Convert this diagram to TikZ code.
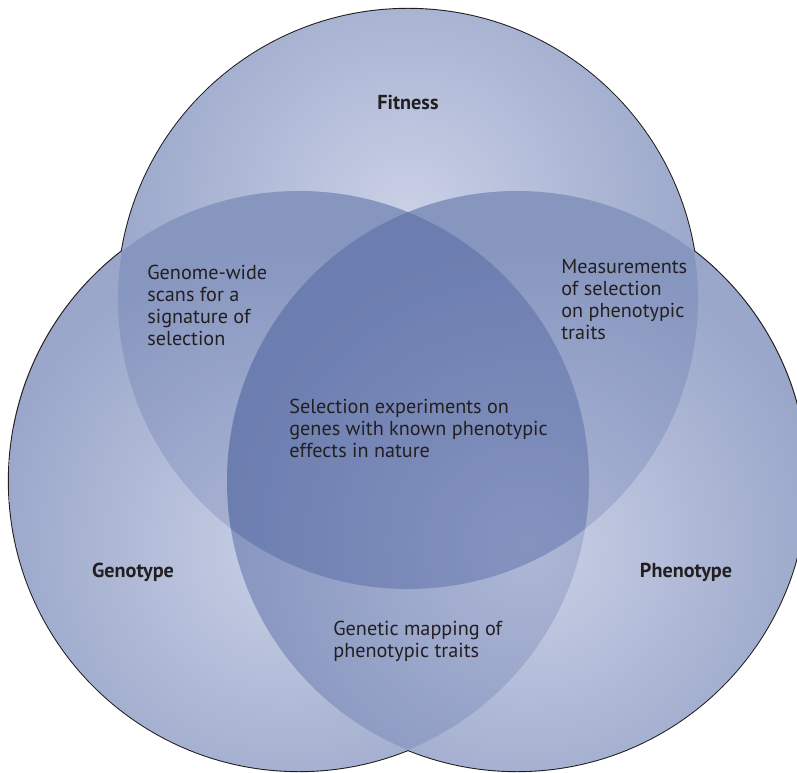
\documentclass[tikz,border=0pt]{standalone}
\usepackage{fontspec}
\setmainfont{PT Sans}
\usepackage{tikz}

\definecolor{ringdark}{HTML}{9AA7CA}
\definecolor{ringlight}{HTML}{CAD0E6}
\definecolor{overlap}{HTML}{3E5597}
\definecolor{ink}{HTML}{231F20}

\begin{document}
\begin{tikzpicture}[x=0.02cm, y=-0.02cm]
\tikzstyle{every node} = [inner sep=0pt, text=ink]
\tikzstyle{circname} = [font=\fontsize{11.5}{12.5}\selectfont\bfseries, anchor=base]
\tikzstyle{areatext} = [font=\fontsize{11.5}{12.5}\selectfont, align=left, anchor=north west]
\tikzstyle{lens} = [fill=overlap, fill opacity=0.2]

\path[use as bounding box] (0,0) rectangle (797,773);
\clip (0,0) rectangle (797,773);

\coordinate (fit) at (408,299);
\coordinate (geno) at (299,481);
\coordinate (pheno) at (517,481);
\def\rad{290}

% outlines first, the fills cover the inner half
\foreach \c in {fit,geno,pheno}
  \draw[line width=1.3pt, ink] (\c) circle (\rad);

% the three circles, each with a light spot
\foreach \c/\sx/\sy in {fit/408/215, geno/290/545, pheno/526/545} {
  \fill[ringdark] (\c) circle (\rad);
  \begin{scope}
    \clip (\c) circle (\rad);
    \shade[inner color=ringlight, outer color=ringdark] (\sx,\sy) circle (300);
  \end{scope}
}

% darker overlaps
\foreach \a/\b in {fit/geno, fit/pheno, geno/pheno} {
  \begin{scope}
    \clip (\a) circle (\rad);
    \fill[lens] (\b) circle (\rad);
  \end{scope}
}

\node[circname] (fitness) at (408,110) {Fitness};
\node[circname] (genotype) at (133,577) {Genotype};
\node[circname] (phenotype) at (686,577) {Phenotype};

\node[areatext] (scans) at (147,265) {Genome-wide\\scans for a\\signature of\\selection};
\node[areatext] (measure) at (561,259) {Measurements\\of selection\\on phenotypic\\traits};
\node[areatext] (experiments) at (289,399) {Selection experiments on\\genes with known phenotypic\\effects in nature};
\node[areatext] (mapping) at (333,621) {Genetic mapping of\\phenotypic traits};
\end{tikzpicture}
\end{document}
